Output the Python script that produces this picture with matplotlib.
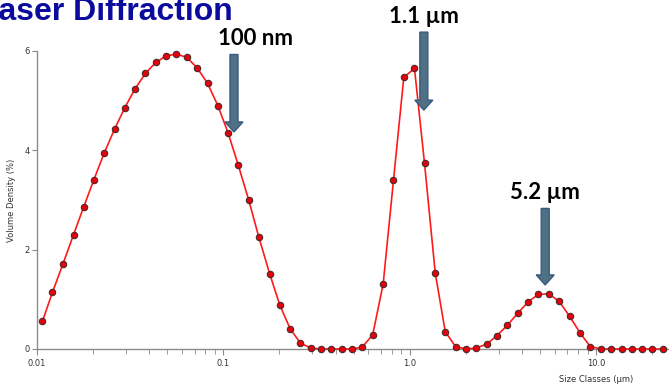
import matplotlib
matplotlib.use("Agg")
import matplotlib.pyplot as plt
from matplotlib.patches import Polygon
from matplotlib.ticker import FixedLocator, FixedFormatter, LogLocator, NullFormatter

# size classes (um) and volume density (%)
sizes = [0.0107, 0.0121, 0.0138, 0.0157, 0.0178, 0.0202, 0.0229, 0.0261, 0.0296, 0.0336,
         0.0382, 0.0434, 0.0493, 0.0560, 0.0637, 0.0723, 0.0822, 0.0934, 0.106, 0.120,
         0.137, 0.155, 0.177, 0.201, 0.228, 0.259, 0.294, 0.335, 0.380, 0.432,
         0.491, 0.557, 0.633, 0.720, 0.818, 0.929, 1.06, 1.20, 1.37, 1.55,
         1.76, 2.00, 2.28, 2.59, 2.94, 3.34, 3.80, 4.32, 4.90, 5.57,
         6.33, 7.20, 8.18, 9.29, 10.6, 12.0, 13.7, 15.5, 17.6, 20.0, 22.8]
density = [0.56, 1.14, 1.72, 2.30, 2.86, 3.41, 3.94, 4.43, 4.86, 5.24,
           5.55, 5.77, 5.90, 5.94, 5.87, 5.66, 5.35, 4.90, 4.35, 3.71,
           2.99, 2.25, 1.52, 0.88, 0.41, 0.12, 0.02, 0.0, 0.0, 0.0,
           0.0, 0.04, 0.29, 1.31, 3.40, 5.47, 5.65, 3.74, 1.53, 0.35,
           0.05, 0.0, 0.02, 0.10, 0.27, 0.48, 0.72, 0.95, 1.10, 1.11,
           0.96, 0.66, 0.33, 0.05, 0.0, 0.0, 0.0, 0.0, 0.0, 0.0, 0.0]

x_ticks = [0.01, 0.1, 1.0, 10.0]
x_tick_labels = ["0.01", "0.1", "1.0", "10.0"]
y_ticks = [0, 2, 4, 6]

# peak callouts: label, arrow x (um), arrow top / tip (%)
peak_labels = ["100 nm", "1.1 \u00b5m", "5.2 \u00b5m"]
peak_x = [0.114, 1.19, 5.33]
arrow_top = [5.93, 6.38, 2.83]
arrow_tip = [4.37, 4.81, 1.29]

W, H = 669, 385
fig = plt.figure(figsize=(W / 100, H / 100), dpi=100)
ax = fig.add_axes([37 / W, 36 / H, 632 / W, 298 / H])

ax.plot(sizes, density, color="#ff1a1a", lw=1.2, marker="o", ms=4.6,
        mfc="#e8000b", mec="#4a2a2a", mew=0.8, clip_on=False, zorder=3)

ax.set_xscale("log")
ax.set_xlim(0.01, 24.6)
ax.set_ylim(0, 6)

ax.xaxis.set_major_locator(FixedLocator(x_ticks))
ax.xaxis.set_major_formatter(FixedFormatter(x_tick_labels))
ax.xaxis.set_minor_locator(LogLocator(base=10, subs=range(2, 10), numticks=20))
ax.xaxis.set_minor_formatter(NullFormatter())
ax.set_yticks(y_ticks)

for side in ["top", "right"]:
    ax.spines[side].set_visible(False)
for side in ["left", "bottom"]:
    ax.spines[side].set_color("#8c8c8c")
    ax.spines[side].set_linewidth(1.0)

ax.tick_params(which="both", direction="out", color="#8c8c8c", labelcolor="#333333",
               labelsize=6)
ax.tick_params(axis="x", which="major", length=4, pad=3)
ax.tick_params(axis="x", which="minor", length=3.5)
ax.tick_params(axis="y", length=3.5, pad=1.5)

ax.set_ylabel("Volume Density (%)", fontsize=6, color="#333333", labelpad=6)
fig.text(596 / W, 1 - 379 / H, "Size Classes (\u00b5m)", fontsize=6, color="#333333",
         ha="center", va="center")

# title runs off the top-left corner, as in the slide
fig.text(233 / W, 1 - 20 / H, "Laser Diffraction", fontsize=23, fontweight="bold",
         family="Liberation Sans", color="#0b0b9e", ha="right", va="baseline")

# arrows + labels
fig.canvas.draw()
for lab, xv, yt, yb in zip(peak_labels, peak_x, arrow_top, arrow_tip):
    x0, ytop = ax.transData.transform((xv, yt))
    _, ytip = ax.transData.transform((xv, yb))
    sw, hw, hl = 4.0, 9.0, 10.0
    verts = [(x0 - sw, ytop), (x0 + sw, ytop), (x0 + sw, ytip + hl), (x0 + hw, ytip + hl),
             (x0, ytip), (x0 - hw, ytip + hl), (x0 - sw, ytip + hl)]
    verts = [fig.transFigure.inverted().transform(v) for v in verts]
    fig.patches.append(Polygon(verts, closed=True, transform=fig.transFigure,
                               fc="#4f7085", ec="#3a5a80", lw=1.0, zorder=5))
    fig.text((x0 + 22) / W if lab == "100 nm" else x0 / W, (ytop + 16) / H, lab,
             fontsize=16, fontweight="bold", family="Lato", color="black",
             ha="center", va="center")

fig.savefig("out.png", dpi=100)
